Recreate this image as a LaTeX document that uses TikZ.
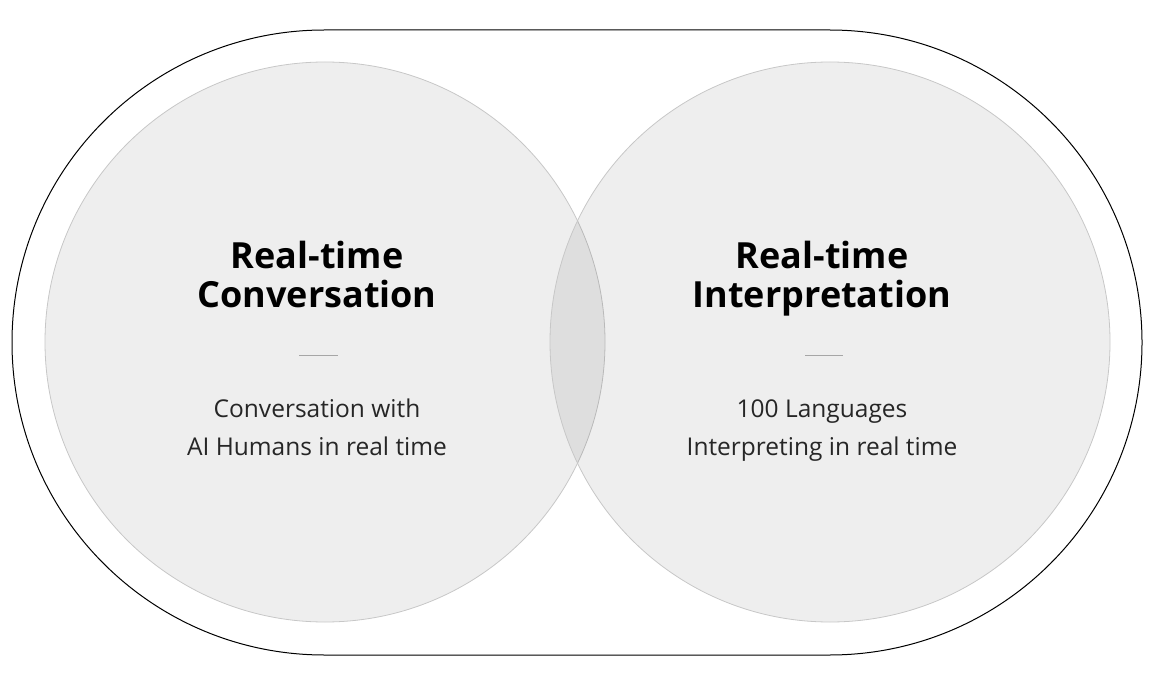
\documentclass[tikz,border=0pt]{standalone}
\usepackage{fontspec}
\setmainfont{Open Sans}
\begin{document}
\begin{tikzpicture}[x=1pt,y=-1pt,
  venn/.style={circle,minimum size=560pt,draw=black!22,line width=0.8pt,fill=black,fill opacity=0.065,draw opacity=1},
  title/.style={font=\fontsize{36}{40}\selectfont\bfseries,anchor=base,inner sep=0pt,text=black},
  sub/.style={font=\fontsize{24.5}{38}\selectfont,anchor=base,inner sep=0pt,text=black!85},
  rule/.style={draw=black!35,line width=0.8pt}]
\useasboundingbox (0,0) rectangle (1150,684);
\draw[line width=1pt,rounded corners=312.5pt] (12,30) rectangle (1142,655);
\node[venn] (L) at (325,342) {};
\node[venn] (R) at (830,342) {};
\node[title] (t1a) at (317,269) {Real-time};
\node[title] (t1b) at (317,308) {Conversation};
\node[title] (t2a) at (822,269) {Real-time};
\node[title] (t2b) at (822,308) {Interpretation};
\coordinate (a1) at (299,355); \coordinate (b1) at (338,355);
\coordinate (a2) at (805,355); \coordinate (b2) at (843,355);
\draw[rule] (a1) -- (b1);
\draw[rule] (a2) -- (b2);
\node[sub] (s1a) at (317,417) {Conversation with};
\node[sub] (s1b) at (317,455) {AI Humans in real time};
\node[sub] (s2a) at (822,417) {100 Languages};
\node[sub] (s2b) at (822,455) {Interpreting in real time};
\end{tikzpicture}
\end{document}
